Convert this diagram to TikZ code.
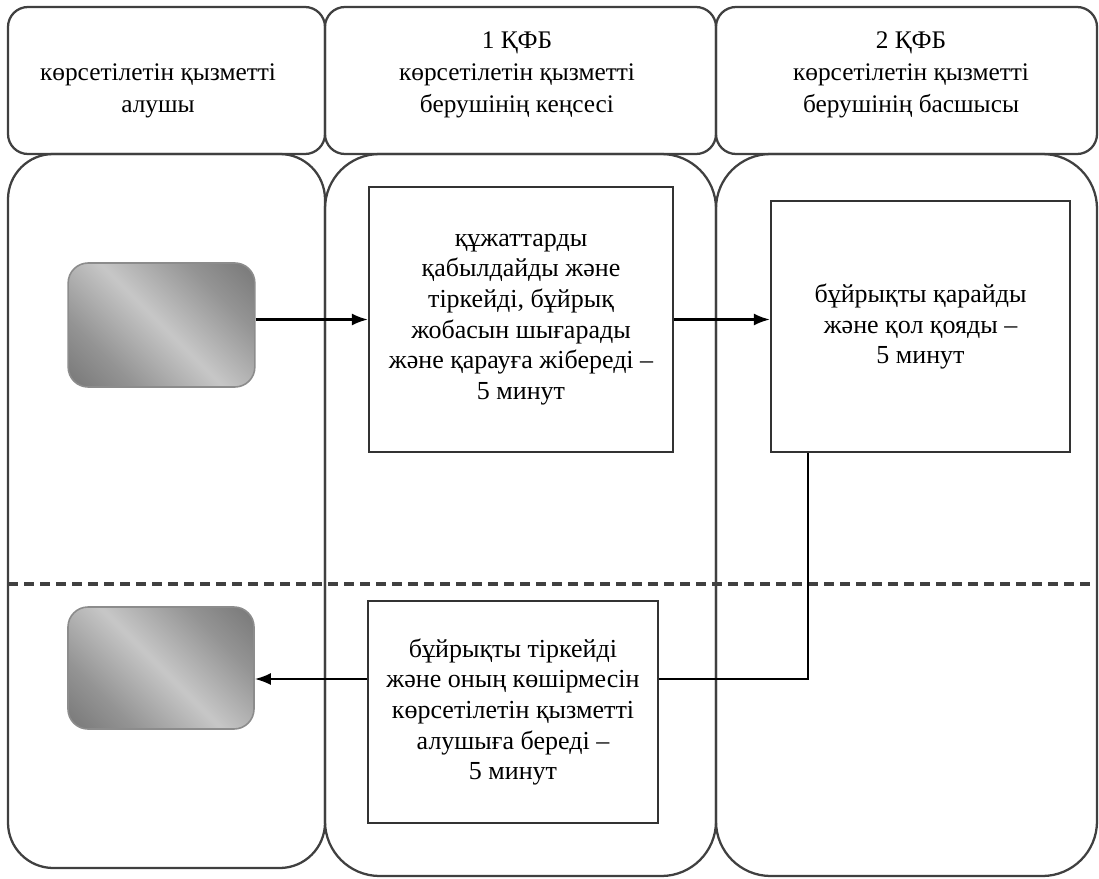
\documentclass[tikz,border=0pt]{standalone}
\usepackage{fontspec}
\setmainfont{Liberation Serif}
\usetikzlibrary{arrows.meta}

\pgfdeclarehorizontalshading{greybox}{100bp}{color(0bp)=(black!64); color(30bp)=(black!42); color(50bp)=(black!22); color(70bp)=(black!42); color(100bp)=(black!64)}

\tikzset{
  lane/.style={draw=black!75, line width=1.7pt, rounded corners=#1},
  lanehead/.style={draw=black!75, line width=1.7pt, rounded corners=15pt, minimum height=110.25pt},
  headtext/.style={align=center, font=\fontsize{19}{24}\selectfont},
  stepbox/.style={draw=black!80, line width=1.7pt, align=center, font=\fontsize{19.5}{23}\selectfont},
  party/.style={draw=black!45, line width=1.2pt, rounded corners=15pt, shade, shading=greybox, shading angle=45},
  flow/.style={line width=1.6pt, -{Latex[length=12pt,width=9pt]}},
  link/.style={line width=1.6pt}
}

\begin{document}
\begin{tikzpicture}[x=0.75pt,y=0.75pt,yscale=-1,xscale=1]
\useasboundingbox (0,0) rectangle (1099,878);

% swimlanes
\draw [lane=34pt] (8,154) rectangle (325,868);
\draw [lane=41pt] (325,154) rectangle (716,876);
\draw [lane=41pt] (716,154) rectangle (1097,876);

\node [lanehead, minimum width=237.75pt] (head1) at (166.5,80.5) {};
\node [lanehead, minimum width=293.25pt] (head2) at (520.5,80.5) {};
\node [lanehead, minimum width=285.75pt] (head3) at (906.5,80.5) {};

\node [headtext] (title1) at (158,91) {көрсетілетін қызметті\\алушы};
\node [headtext] (title2) at (517,75) {1 ҚФБ\\көрсетілетін қызметті\\берушінің кеңсесі};
\node [headtext] (title3) at (911,75) {2 ҚФБ\\көрсетілетін қызметті\\берушінің басшысы};

% result line
\coordinate (cutL) at (8,584);
\coordinate (cutR) at (1097,584);
\draw [line width=2.3pt, black!75, dash pattern=on 7.5pt off 4.5pt] (cutL) -- (cutR);

% steps
\node [party, minimum width=140pt, minimum height=93pt] (client1) at (161.5,325) {};
\node [party, minimum width=139.5pt, minimum height=91.5pt] (client2) at (161,668) {};

\node [stepbox, minimum width=228pt, minimum height=198.75pt] (recv) at (521,319.5) {құжаттарды\\қабылдайды және\\тіркейді, бұйрық\\жобасын шығарады\\және қарауға жібереді –\\5 минут};
\node [stepbox, minimum width=224.25pt, minimum height=188.25pt] (sign) at (920.5,326.5) {бұйрықты қарайды\\және қол қояды –\\5 минут};
\node [stepbox, minimum width=217.5pt, minimum height=166.5pt] (issue) at (513,712) {бұйрықты тіркейді\\және оның көшірмесін\\көрсетілетін қызметті\\алушыға береді –\\5 минут};

% connectors
\draw [flow] (client1.east |- recv.west) -- (recv.west);
\draw [flow] (recv.east) -- (recv.east -| sign.west);
\coordinate (turn) at (808,679);
\draw [link] (sign.south -| turn) -- (turn) -- (turn -| issue.east);
\draw [flow] (issue.west |- turn) -- (client2.east |- turn);

\end{tikzpicture}
\end{document}
